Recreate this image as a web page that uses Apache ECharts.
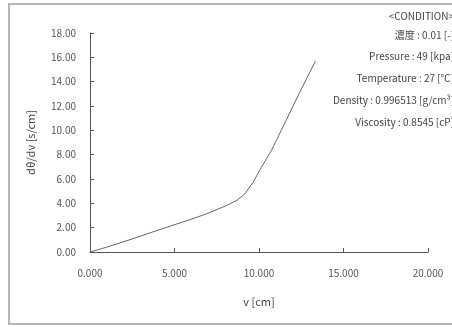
<!DOCTYPE html>
<html>
<head>
<meta charset="utf-8">
<script src="https://cdn.jsdelivr.net/npm/echarts@6/dist/echarts.min.js"></script>
<style>
  html, body { margin: 0; padding: 0; background: #fff; }
  #main { width: 452px; height: 327px; }
</style>
</head>
<body>
<div id="main"></div>
<script>
var vValues = [0, 1.0, 2.25, 3.5, 4.75, 5.9, 6.9, 8.08, 8.7, 9.16, 9.65, 10.14, 10.73, 11.6, 12.4, 13.34];
var slopeValues = [0, 0.4, 0.96, 1.55, 2.13, 2.65, 3.14, 3.82, 4.25, 4.78, 5.73, 6.96, 8.33, 10.8, 13.1, 15.7];
var conditionLines = [
    '<CONDITION>',
    '濃度 : 0.01 [-]',
    'Pressure : 49 [kpa]',
    'Temperature : 27 [℃]',
    'Density : 0.996513 [g/cm³]',
    'Viscosity : 0.8545 [cP]'
];
var conditionY = [18, 37, 58, 80, 102, 124];

var points = vValues.map(function (v, i) { return [v, slopeValues[i]]; });

var font = '"Noto Sans CJK JP", "DejaVu Sans", sans-serif';
var axisColor = '#555';

var texts = conditionLines.map(function (t, i) {
    return {
        type: 'text',
        right: -2,
        top: conditionY[i] - 7,
        style: {
            text: t,
            fill: '#444',
            font: '10px ' + font,
            textAlign: 'right'
        }
    };
});

var myChart = echarts.init(document.getElementById('main'));
var option = {
    animation: false,
    grid: {left: 90, right: 24, top: 33, bottom: 75},
    xAxis: {
        type: 'value',
        min: 0,
        max: 20,
        interval: 5,
        name: 'v [cm]',
        nameLocation: 'middle',
        nameGap: 44,
        nameTextStyle: {color: '#444', fontSize: 11, fontFamily: font},
        axisLine: {show: true, lineStyle: {color: axisColor, width: 1}},
        axisTick: {show: true, inside: true, length: 4, lineStyle: {color: axisColor}},
        splitLine: {show: false},
        axisLabel: {
            color: '#555', fontSize: 10, fontFamily: font, margin: 16,
            formatter: function (v) { return v.toFixed(3); }
        }
    },
    yAxis: {
        type: 'value',
        min: 0,
        max: 18,
        interval: 2,
        name: 'dθ/dv [s/cm]',
        nameLocation: 'middle',
        nameGap: 54,
        nameTextStyle: {color: '#444', fontSize: 11, fontFamily: font},
        axisLine: {show: true, lineStyle: {color: axisColor, width: 1}},
        axisTick: {show: true, inside: true, length: 4, lineStyle: {color: axisColor}},
        splitLine: {show: false},
        axisLabel: {
            color: '#555', fontSize: 10, fontFamily: font, margin: 14,
            formatter: function (v) { return v.toFixed(2); }
        }
    },
    graphic: [
        {
            type: 'rect',
            shape: {x: 9, y: 4, width: 460, height: 320},
            style: {fill: 'none', stroke: '#b5b5b5', lineWidth: 2}
        }
    ].concat(texts),
    series: [
        {
            type: 'line',
            data: points,
            showSymbol: false,
            smooth: false,
            lineStyle: {color: '#666', width: 1}
        }
    ]
};
myChart.setOption(option);
</script>
</body>
</html>
